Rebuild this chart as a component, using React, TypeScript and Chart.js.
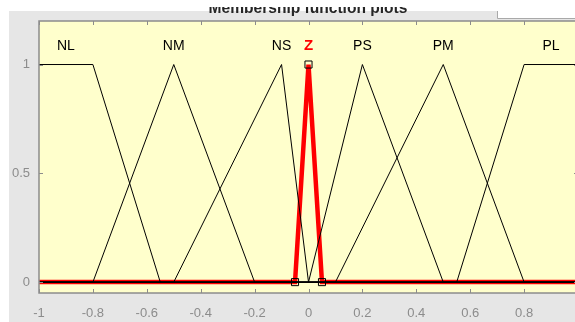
import React, { useEffect, useRef } from "react";
import { Chart, registerables } from "chart.js";

Chart.register(...registerables);

// ---- data ----
const X_TICKS = [-1, -0.8, -0.6, -0.4, -0.2, 0, 0.2, 0.4, 0.6, 0.8, 1];
const Y_TICKS = [0, 0.5, 1];
const MF_NAMES = ["NL", "NM", "NS", "Z", "PS", "PM", "PL"];
const LABEL_X = [-0.9, -0.5, -0.1, 0, 0.2, 0.5, 0.9];
const LABEL_Y = 1.085;

const NL_X = [-1, -0.8, -0.55, 1];
const NL_Y = [1, 1, 0, 0];
const NM_X = [-1, -0.8, -0.5, -0.2, 1];
const NM_Y = [0, 0, 1, 0, 0];
const NS_X = [-1, -0.5, -0.1, 0, 1];
const NS_Y = [0, 0, 1, 0, 0];
const Z_X = [-1, -0.05, 0, 0.05, 1];
const Z_Y = [0, 0, 1, 0, 0];
const PS_X = [-1, 0, 0.2, 0.5, 1];
const PS_Y = [0, 0, 1, 0, 0];
const PM_X = [-1, 0.1, 0.5, 0.8, 1];
const PM_Y = [0, 0, 1, 0, 0];
const PL_X = [-1, 0.55, 0.8, 1];
const PL_Y = [0, 0, 1, 1];
const Z_MARK_X = [-0.05, 0, 0.05];
const Z_MARK_Y = [0, 1, 0];

const TITLE = "Membership function plots";

const W = 584;
const H = 322;
const FONT = "'Liberation Sans', Arial, sans-serif";

const fmt = (v: number) => String(Math.round(v * 10) / 10);
const pts = (xs: number[], ys: number[]) => xs.map((x, i) => ({ x, y: ys[i] }));

const bgPlugin = {
  id: "bg",
  beforeDraw(chart: any) {
    const { ctx, chartArea: a } = chart;
    ctx.save();
    ctx.fillStyle = "#ffffff";
    ctx.fillRect(0, 0, W, H);
    ctx.fillStyle = "#e6e6e6";
    ctx.fillRect(9, 11, W, H);
    // title (partially hidden)
    ctx.font = `bold 14px ${FONT}`;
    const w = ctx.measureText(TITLE).width;
    const size = 14 * (199 / w);
    ctx.font = `bold ${size}px ${FONT}`;
    ctx.fillStyle = "#262626";
    ctx.textAlign = "center";
    ctx.textBaseline = "alphabetic";
    ctx.fillText(TITLE, 308, 12.5);
    ctx.fillStyle = "#ffffff";
    ctx.fillRect(0, 0, W, 7);
    // white box at top right
    ctx.fillStyle = "#ffffff";
    ctx.fillRect(497, 0, W, 18);
    ctx.strokeStyle = "#a9a9a9";
    ctx.lineWidth = 1;
    ctx.beginPath();
    ctx.moveTo(497.5, 11);
    ctx.lineTo(497.5, 18.5);
    ctx.lineTo(W, 18.5);
    ctx.stroke();
    // plot area
    ctx.fillStyle = "#ffffcc";
    ctx.fillRect(a.left, a.top, a.right - a.left, a.bottom - a.top);
    ctx.restore();
  },
  afterDatasetsDraw(chart: any) {
    const { ctx, chartArea: a, scales } = chart;
    const xs = scales.x;
    const ys = scales.y;
    ctx.save();
    // frame
    ctx.strokeStyle = "#8c8c8c";
    ctx.lineWidth = 1.5;
    ctx.strokeRect(a.left, a.top, a.right - a.left, a.bottom - a.top);
    // ticks (inward)
    ctx.lineWidth = 1;
    ctx.strokeStyle = "#8c8c8c";
    ctx.beginPath();
    X_TICKS.forEach((v) => {
      const px = Math.round(xs.getPixelForValue(v)) + 0.5;
      ctx.moveTo(px, a.top);
      ctx.lineTo(px, a.top + 4);
      ctx.moveTo(px, a.bottom);
      ctx.lineTo(px, a.bottom - 4);
    });
    Y_TICKS.forEach((v) => {
      const py = Math.round(ys.getPixelForValue(v)) + 0.5;
      ctx.moveTo(a.left, py);
      ctx.lineTo(a.left + 4, py);
      ctx.moveTo(a.right, py);
      ctx.lineTo(a.right - 4, py);
    });
    ctx.stroke();
    // MF names
    ctx.textAlign = "center";
    ctx.textBaseline = "middle";
    MF_NAMES.forEach((name, i) => {
      const px = xs.getPixelForValue(LABEL_X[i]);
      const py = ys.getPixelForValue(LABEL_Y);
      if (name === "Z") {
        ctx.font = `bold 15px ${FONT}`;
        ctx.fillStyle = "#ff0000";
      } else {
        ctx.font = `14px ${FONT}`;
        ctx.fillStyle = "#000000";
      }
      ctx.fillText(name, px, py);
    });
    ctx.restore();
  },
};

export default function App() {
  const ref = useRef<HTMLCanvasElement>(null);
  useEffect(() => {
    const canvas = ref.current!;
    const black = (xs: number[], ys: number[]) => ({
      data: pts(xs, ys),
      borderColor: "#000000",
      borderWidth: 1,
      pointRadius: 0,
      showLine: true,
      tension: 0,
      fill: false,
      order: 1,
    });
    const chart = new Chart(canvas, {
      type: "scatter",
      data: {
        datasets: [
          {
            data: pts(Z_X, Z_Y),
            borderColor: "#ff0000",
            borderWidth: 4.5,
            pointRadius: 0,
            showLine: true,
            tension: 0,
            fill: false,
            order: 2,
          } as any,
          black(NL_X, NL_Y),
          black(NM_X, NM_Y),
          black(NS_X, NS_Y),
          black(PS_X, PS_Y),
          black(PM_X, PM_Y),
          black(PL_X, PL_Y),
          {
            data: pts(Z_MARK_X, Z_MARK_Y),
            showLine: false,
            pointStyle: "rect",
            pointRadius: 5,
            pointBackgroundColor: "rgba(0,0,0,0)",
            pointBorderColor: "#000000",
            pointBorderWidth: 1,
            order: 0,
          } as any,
        ],
      },
      options: {
        animation: false,
        responsive: false,
        devicePixelRatio: 1,
        events: [],
        layout: { padding: { top: 21, right: 1, left: 0, bottom: 0 } },
        plugins: { legend: { display: false }, tooltip: { enabled: false } },
        scales: {
          x: {
            type: "linear",
            min: -1,
            max: 1,
            afterBuildTicks: (s: any) => {
              s.ticks = X_TICKS.map((v) => ({ value: v }));
            },
            afterFit: (s: any) => {
              s.height = 29;
              s.paddingLeft = 0;
              s.paddingRight = 0;
            },
            grid: { display: false, drawTicks: false },
            border: { display: false },
            ticks: {
              color: "#8c8c8c",
              font: { family: FONT, size: 13 },
              padding: 13,
              maxRotation: 0,
              autoSkip: false,
              callback: (v: any) => fmt(Number(v)),
            },
          },
          y: {
            type: "linear",
            min: -0.05,
            max: 1.2,
            afterBuildTicks: (s: any) => {
              s.ticks = Y_TICKS.map((v) => ({ value: v }));
            },
            afterFit: (s: any) => {
              s.width = 39;
              s.paddingTop = 0;
              s.paddingBottom = 0;
            },
            grid: { display: false, drawTicks: false },
            border: { display: false },
            ticks: {
              color: "#8c8c8c",
              font: { family: FONT, size: 13 },
              padding: 9,
              autoSkip: false,
              callback: (v: any) => fmt(Number(v)),
            },
          },
        },
      } as any,
      plugins: [bgPlugin],
    });
    return () => chart.destroy();
  }, []);
  return (
    <div
      style={{
        position: "fixed",
        left: 0,
        top: 0,
        width: 575,
        height: 322,
        overflow: "hidden",
        background: "#fff",
      }}
    >
      <canvas ref={ref} width={W} height={H} style={{ display: "block", width: W, height: H }} />
    </div>
  );
}
